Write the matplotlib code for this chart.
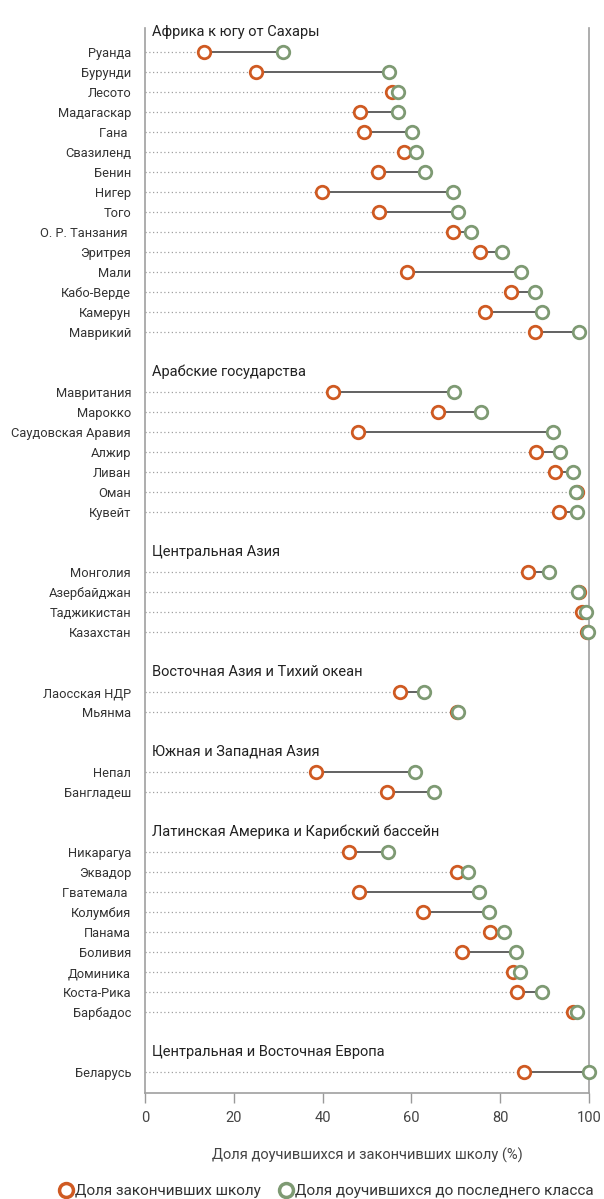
import matplotlib
matplotlib.use("Agg")
import matplotlib.pyplot as plt
from matplotlib.lines import Line2D

plt.rcParams['font.family'] = ['Roboto', 'DejaVu Sans']

# groups: (header, countries, completion (orange), survival to last grade (green))
group_names = [
    "Африка к югу от Сахары",
    "Арабские государства",
    "Центральная Азия",
    "Восточная Азия и Тихий океан",
    "Южная и Западная Азия",
    "Латинская Америка и Карибский бассейн",
    "Центральная и Восточная Европа",
]

africa_countries = ["Руанда", "Бурунди", "Лесото", "Мадагаскар", "Гана ", "Свазиленд", "Бенин",
                    "Нигер", "Того", "О. Р. Танзания ", "Эритрея", "Мали", "Кабо-Верде",
                    "Камерун", "Маврикий"]
africa_completion = [13.4, 25.1, 55.7, 48.5, 49.4, 58.4, 52.5, 39.9, 52.6, 69.3, 75.5, 58.9, 82.5, 76.6, 87.8]
africa_survival = [31.1, 54.9, 57.0, 57.0, 60.1, 61.0, 63.0, 69.3, 70.4, 73.4, 80.3, 84.7, 87.8, 89.4, 97.7]

arab_countries = ["Мавритания", "Марокко", "Саудовская Аравия", "Алжир", "Ливан", "Оман", "Кувейт"]
arab_completion = [42.3, 66.0, 47.9, 88.1, 92.3, 97.4, 93.2]
arab_survival = [69.5, 75.6, 91.9, 93.4, 96.5, 97.1, 97.2]

casia_countries = ["Монголия", "Азербайджан", "Таджикистан", "Казахстан"]
casia_completion = [86.2, 97.8, 98.4, 99.6]
casia_survival = [90.9, 97.5, 99.4, 99.7]

easia_countries = ["Лаосская НДР", "Мьянма"]
easia_completion = [57.4, 70.3]
easia_survival = [62.8, 70.4]

sasia_countries = ["Непал", "Бангладеш"]
sasia_completion = [38.6, 54.6]
sasia_survival = [60.9, 65.2]

latam_countries = ["Никарагуа", "Эквадор", "Гватемала ", "Колумбия", "Панама", "Боливия",
                   "Доминика", "Коста-Рика", "Барбадос"]
latam_completion = [45.9, 70.2, 48.1, 62.5, 77.7, 71.4, 82.9, 83.8, 96.5]
latam_survival = [54.8, 72.7, 75.2, 77.5, 80.9, 83.5, 84.4, 89.4, 97.2]

europe_countries = ["Беларусь"]
europe_completion = [85.4]
europe_survival = [100.0]

groups = [
    (africa_countries, africa_completion, africa_survival),
    (arab_countries, arab_completion, arab_survival),
    (casia_countries, casia_completion, casia_survival),
    (easia_countries, easia_completion, easia_survival),
    (sasia_countries, sasia_completion, sasia_survival),
    (latam_countries, latam_completion, latam_survival),
    (europe_countries, europe_completion, europe_survival),
]

xticks = [0, 20, 40, 60, 80, 100]
xlabel = "Доля доучившихся и закончивших школу (%)"
legend_labels = ["Доля закончивших школу", "Доля доучившихся до последнего класса"]

ORANGE = "#cf5a22"
GREEN = "#7e9a73"

W, H = 604, 1199
fig = plt.figure(figsize=(W / 100, H / 100), dpi=100)
ax = fig.add_axes([145 / W, 1 - 1093 / H, (589 - 145) / W, (1093 - 28) / H])

ytick_pos, ytick_lab = [], []
slot = 0
for gname, (countries, comp, surv) in zip(group_names, groups):
    ax.text(1.5, slot, gname, ha="left", va="center", fontsize=10.5, color="#222222")
    slot += 1
    for c, a, b in zip(countries, comp, surv):
        lo, hi = min(a, b), max(a, b)
        ax.plot([0, lo], [slot, slot], color="#a0a0a0", lw=0.9, ls=(0, (1, 2)), zorder=1)
        ax.plot([lo, hi], [slot, slot], color="#555555", lw=1.3, zorder=2)
        ax.plot([a], [slot], marker="o", ms=9, mfc="white", mec=ORANGE, mew=2, zorder=3,
                ls="none", clip_on=False)
        ax.plot([b], [slot], marker="o", ms=9, mfc="white", mec=GREEN, mew=2, zorder=4,
                ls="none", clip_on=False)
        ytick_pos.append(slot)
        ytick_lab.append(c)
        slot += 1
    slot += 1

ax.set_xlim(0, 100)
ax.set_ylim(slot - 1 + 0.05, -0.2)
ax.set_yticks(ytick_pos)
ax.set_yticklabels(ytick_lab, fontsize=9.3, color="#333333")
ax.tick_params(axis="y", length=0, pad=10)
ax.set_xticks(xticks)
ax.set_xticklabels([str(t) for t in xticks], fontsize=10.5, color="#444444")
ax.tick_params(axis="x", length=7, width=1, color="#999999", pad=6)
ax.set_xlabel(xlabel, fontsize=10.5, color="#444444", labelpad=16)

for s in ["left", "right", "bottom"]:
    ax.spines[s].set_color("#a0a0a0")
    ax.spines[s].set_linewidth(1.2)
ax.spines["top"].set_visible(False)

handles = [
    Line2D([], [], marker="o", ls="none", ms=10, mfc="white", mec=ORANGE, mew=2.5),
    Line2D([], [], marker="o", ls="none", ms=10, mfc="white", mec=GREEN, mew=2.5),
]
fig.legend(handles, legend_labels, loc="center", bbox_to_anchor=(326 / W, 1 - 1191 / H), ncol=2,
           frameon=False, fontsize=11, handletextpad=0.05, columnspacing=1.2,
           labelcolor="#333333", handlelength=1.0, borderaxespad=0)

fig.savefig("out.png", dpi=100)
